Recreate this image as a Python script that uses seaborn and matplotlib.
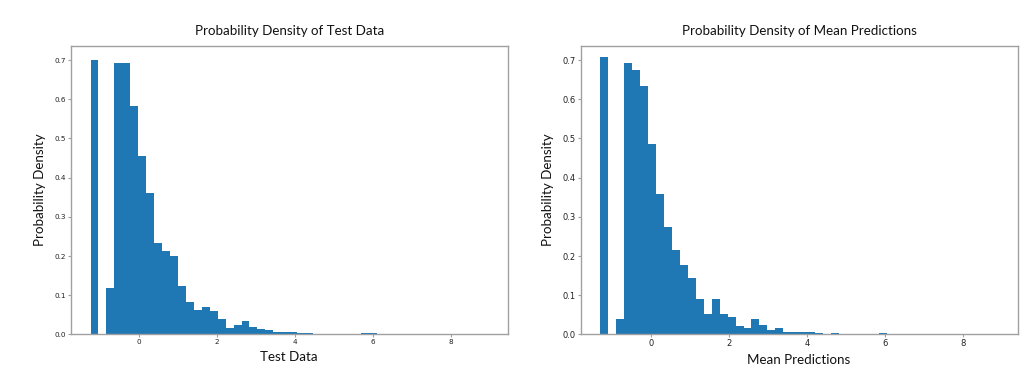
import numpy as np
import pandas as pd
import matplotlib
matplotlib.use("Agg")
import matplotlib.pyplot as plt
import seaborn as sns

# ---- data ----
n_bins = 50
test_range = (-1.246, 8.956)
test_density = [0.701, 0.0, 0.119, 0.693, 0.692, 0.583, 0.455, 0.361, 0.232, 0.214,
                0.199, 0.124, 0.083, 0.063, 0.071, 0.059, 0.039, 0.015, 0.023, 0.033,
                0.019, 0.014, 0.011, 0.006, 0.007, 0.007, 0.004, 0.004, 0.002, 0.0,
                0.001, 0.001, 0.001, 0.001, 0.003, 0.003, 0.001, 0.0, 0.0, 0.0,
                0.0, 0.0, 0.0, 0.0, 0.001, 0.0, 0.0, 0.0, 0.0, 0.001]

pred_range = (-1.300, 8.880)
pred_density = [0.708, 0.0, 0.040, 0.693, 0.676, 0.635, 0.485, 0.359, 0.274, 0.215,
                0.177, 0.144, 0.089, 0.051, 0.091, 0.051, 0.045, 0.022, 0.015, 0.040,
                0.025, 0.012, 0.015, 0.007, 0.007, 0.006, 0.007, 0.003, 0.0, 0.003,
                0.0, 0.0, 0.001, 0.001, 0.0, 0.003, 0.001, 0.001, 0.001, 0.0,
                0.0, 0.0, 0.0, 0.0, 0.001, 0.0, 0.0, 0.0, 0.0, 0.001]

titles = ["Probability Density of Test Data", "Probability Density of Mean Predictions"]
xlabels = ["Test Data", "Mean Predictions"]
ylabel = "Probability Density"
xticks = [0, 2, 4, 6, 8]
yticks = [0.0, 0.1, 0.2, 0.3, 0.4, 0.5, 0.6, 0.7]

sns.set_style("white")
plt.rcParams["axes.edgecolor"] = "#a0a0a0"
plt.rcParams["axes.linewidth"] = 1.0
plt.rcParams["xtick.color"] = "#a0a0a0"
plt.rcParams["ytick.color"] = "#a0a0a0"
plt.rcParams["xtick.labelcolor"] = "#222222"
plt.rcParams["ytick.labelcolor"] = "#222222"

label_font = ["Lato", "DejaVu Sans"]

fig = plt.figure(figsize=(10.35, 3.74), dpi=100)
ax1 = fig.add_axes([0.0683, 0.106, 0.4222, 0.772])
ax2 = fig.add_axes([0.561, 0.106, 0.4222, 0.772])

tick_sizes = [5.2, 6.0]
for ax, rng, dens, title, xl, tsz in zip(
        [ax1, ax2], [test_range, pred_range], [test_density, pred_density],
        titles, xlabels, tick_sizes):
    edges = np.linspace(rng[0], rng[1], n_bins + 1)
    centers = (edges[:-1] + edges[1:]) / 2
    df = pd.DataFrame({"value": centers, "density": dens})
    sns.histplot(data=df, x="value", weights="density", bins=list(edges),
                 stat="count", ax=ax, color="#1f77b4", alpha=1.0, linewidth=0)
    ax.set_xticks(xticks)
    ax.set_yticks(yticks)
    ax.set_yticklabels([f"{v:.1f}" for v in yticks])
    ax.tick_params(axis="both", which="both", direction="out", length=2,
                   width=0.8, labelsize=tsz, left=True, bottom=True, pad=1.5)
    ax.set_title(title, fontsize=9.6, family=label_font, pad=7.5, color="#111111")
    ax.set_xlabel(xl, fontsize=9.6, family=label_font, labelpad=4, color="#111111")
    ax.set_ylabel(ylabel, fontsize=9.6, family=label_font, labelpad=6, color="#111111")
    for s in ax.spines.values():
        s.set_visible(True)
        s.set_color("#a0a0a0")
    ax.set_xlim(rng[0] - 0.05 * (rng[1] - rng[0]), rng[1] + 0.05 * (rng[1] - rng[0]))
    ax.set_ylim(0, 0.737)

fig.savefig("out.png", dpi=100)
